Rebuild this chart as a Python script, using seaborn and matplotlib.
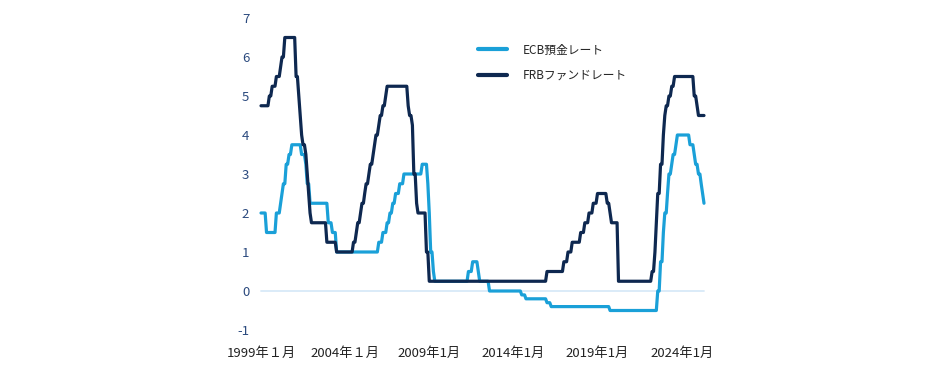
import pandas as pd
import numpy as np
import seaborn as sns
import matplotlib.pyplot as plt

# ECB預金レート（変更日と水準）
ecb_dates = ['1999-01-01', '1999-04-09', '1999-11-05', '2000-02-04', '2000-03-17', '2000-04-28',
             '2000-06-09', '2000-09-01', '2000-10-06', '2001-05-11', '2001-08-31', '2001-09-18',
             '2001-11-09', '2002-12-06', '2003-03-07', '2003-06-06', '2005-12-06', '2006-03-08',
             '2006-06-15', '2006-08-09', '2006-10-11', '2006-12-13', '2007-03-14', '2007-06-13',
             '2008-07-09', '2008-11-12', '2008-12-10', '2009-01-21', '2009-03-11', '2009-04-08',
             '2011-04-13', '2011-07-13', '2011-11-09', '2011-12-14', '2012-07-11', '2014-06-11',
             '2014-09-10', '2015-12-09', '2016-03-16', '2019-09-18', '2022-07-27', '2022-09-14',
             '2022-11-02', '2022-12-21', '2023-02-08', '2023-03-22', '2023-05-10', '2023-06-21',
             '2023-08-02', '2023-09-20', '2024-06-12', '2024-09-18', '2024-10-23', '2024-12-18',
             '2025-02-05', '2025-03-12', '2025-04-23']
ecb_rates = [2.00, 1.50, 2.00, 2.25, 2.50, 2.75,
             3.25, 3.50, 3.75, 3.50, 3.25, 2.75,
             2.25, 1.75, 1.50, 1.00, 1.25, 1.50,
             1.75, 2.00, 2.25, 2.50, 2.75, 3.00,
             3.25, 2.75, 2.00, 1.00, 0.50, 0.25,
             0.50, 0.75, 0.50, 0.25, 0.00, -0.10,
             -0.20, -0.30, -0.40, -0.50, 0.00, 0.75,
             1.50, 2.00, 2.50, 3.00, 3.25, 3.50,
             3.75, 4.00, 3.75, 3.50, 3.25, 3.00,
             2.75, 2.50, 2.25]

# FRBファンドレート（誘導目標上限）
frb_dates = ['1998-11-17', '1999-06-30', '1999-08-24', '1999-11-16', '2000-02-02', '2000-03-21',
             '2000-05-16', '2001-01-03', '2001-01-31', '2001-03-20', '2001-04-18', '2001-05-15',
             '2001-06-27', '2001-08-21', '2001-09-17', '2001-10-02', '2001-11-06', '2001-12-11',
             '2002-11-06', '2003-06-25', '2004-06-30', '2004-08-10', '2004-09-21', '2004-11-10',
             '2004-12-14', '2005-02-02', '2005-03-22', '2005-05-03', '2005-06-30', '2005-08-09',
             '2005-09-20', '2005-11-01', '2005-12-13', '2006-01-31', '2006-03-28', '2006-05-10',
             '2006-06-29', '2007-09-18', '2007-10-31', '2007-12-11', '2008-01-22', '2008-01-30',
             '2008-03-18', '2008-04-30', '2008-10-08', '2008-10-29', '2008-12-16', '2015-12-16',
             '2016-12-14', '2017-03-15', '2017-06-14', '2017-12-13', '2018-03-21', '2018-06-13',
             '2018-09-26', '2018-12-19', '2019-07-31', '2019-09-18', '2019-10-30', '2020-03-03',
             '2020-03-15', '2022-03-16', '2022-05-04', '2022-06-15', '2022-07-27', '2022-09-21',
             '2022-11-02', '2022-12-14', '2023-02-01', '2023-03-22', '2023-05-03', '2023-07-26',
             '2024-09-18', '2024-11-07', '2024-12-18']
frb_rates = [4.75, 5.00, 5.25, 5.50, 5.75, 6.00,
             6.50, 6.00, 5.50, 5.00, 4.50, 4.00,
             3.75, 3.50, 3.00, 2.50, 2.00, 1.75,
             1.25, 1.00, 1.25, 1.50, 1.75, 2.00,
             2.25, 2.50, 2.75, 3.00, 3.25, 3.50,
             3.75, 4.00, 4.25, 4.50, 4.75, 5.00,
             5.25, 4.75, 4.50, 4.25, 3.50, 3.00,
             2.25, 2.00, 1.50, 1.00, 0.25, 0.50,
             0.75, 1.00, 1.25, 1.50, 1.75, 2.00,
             2.25, 2.50, 2.25, 2.00, 1.75, 1.25,
             0.25, 0.50, 1.00, 1.75, 2.50, 3.25,
             4.00, 4.50, 4.75, 5.00, 5.25, 5.50,
             5.00, 4.75, 4.50]

series_names = ['ECB預金レート', 'FRBファンドレート']
series_colors = ['#1aa0d8', '#0e2850']
tick_dates = ['1999-01-01', '2004-01-01', '2009-01-01', '2014-01-01', '2019-01-01', '2024-01-01']
tick_labels = ['1999年１月', '2004年１月', '2009年1月', '2014年1月', '2019年1月', '2024年1月']
y_ticks = [-1, 0, 1, 2, 3, 4, 5, 6, 7]

# 月次データ（各月初時点の政策金利）
months = pd.date_range('1999-01-01', '2025-05-01', freq='MS')


def to_monthly(dates, rates):
    s = pd.Series(rates, index=pd.to_datetime(dates))
    return s.reindex(s.index.union(months)).ffill().loc[months]


df = pd.concat([
    pd.DataFrame({'date': months, 'rate': to_monthly(ecb_dates, ecb_rates).values, 'series': series_names[0]}),
    pd.DataFrame({'date': months, 'rate': to_monthly(frb_dates, frb_rates).values, 'series': series_names[1]}),
])

sns.set_theme(style='white')
plt.rcParams['font.family'] = ['Noto Sans CJK JP', 'DejaVu Sans']

fig = plt.figure(figsize=(9.34, 3.65), dpi=100)
ax = fig.add_axes([261 / 934, 35 / 365, (704 - 261) / 934, (330 - 18) / 365])

ax.axhline(0, color='#d8e9f8', lw=1.3, zorder=0)
sns.lineplot(data=df, x='date', y='rate', hue='series', palette=series_colors,
             hue_order=series_names, lw=2.3, ax=ax, zorder=3)

ax.set_xlim(months[0], months[-1])
ax.set_ylim(-1, 7)
ax.set_yticks(y_ticks)
ax.set_yticklabels([str(v) for v in y_ticks], color='#2b4a7e', fontsize=9.5)
ax.set_xticks(pd.to_datetime(tick_dates))
ax.set_xticklabels(tick_labels, fontsize=9.5, color='#222222')
ax.tick_params(axis='y', length=0, pad=8.5)
ax.tick_params(axis='x', length=0, pad=12)
ax.set_xlabel('')
ax.set_ylabel('')
sns.despine(ax=ax, left=True, bottom=True)
for line in ax.get_lines():
    line.set_clip_on(False)

leg = ax.legend(loc='upper left', bbox_to_anchor=(467 / 934, 1 - 33 / 365), bbox_transform=fig.transFigure,
                frameon=False, fontsize=8.5, handlelength=2.5, handletextpad=1.3, labelspacing=1.05)
for h in leg.get_lines():
    h.set_linewidth(3)

fig.savefig('out.png', dpi=100)
